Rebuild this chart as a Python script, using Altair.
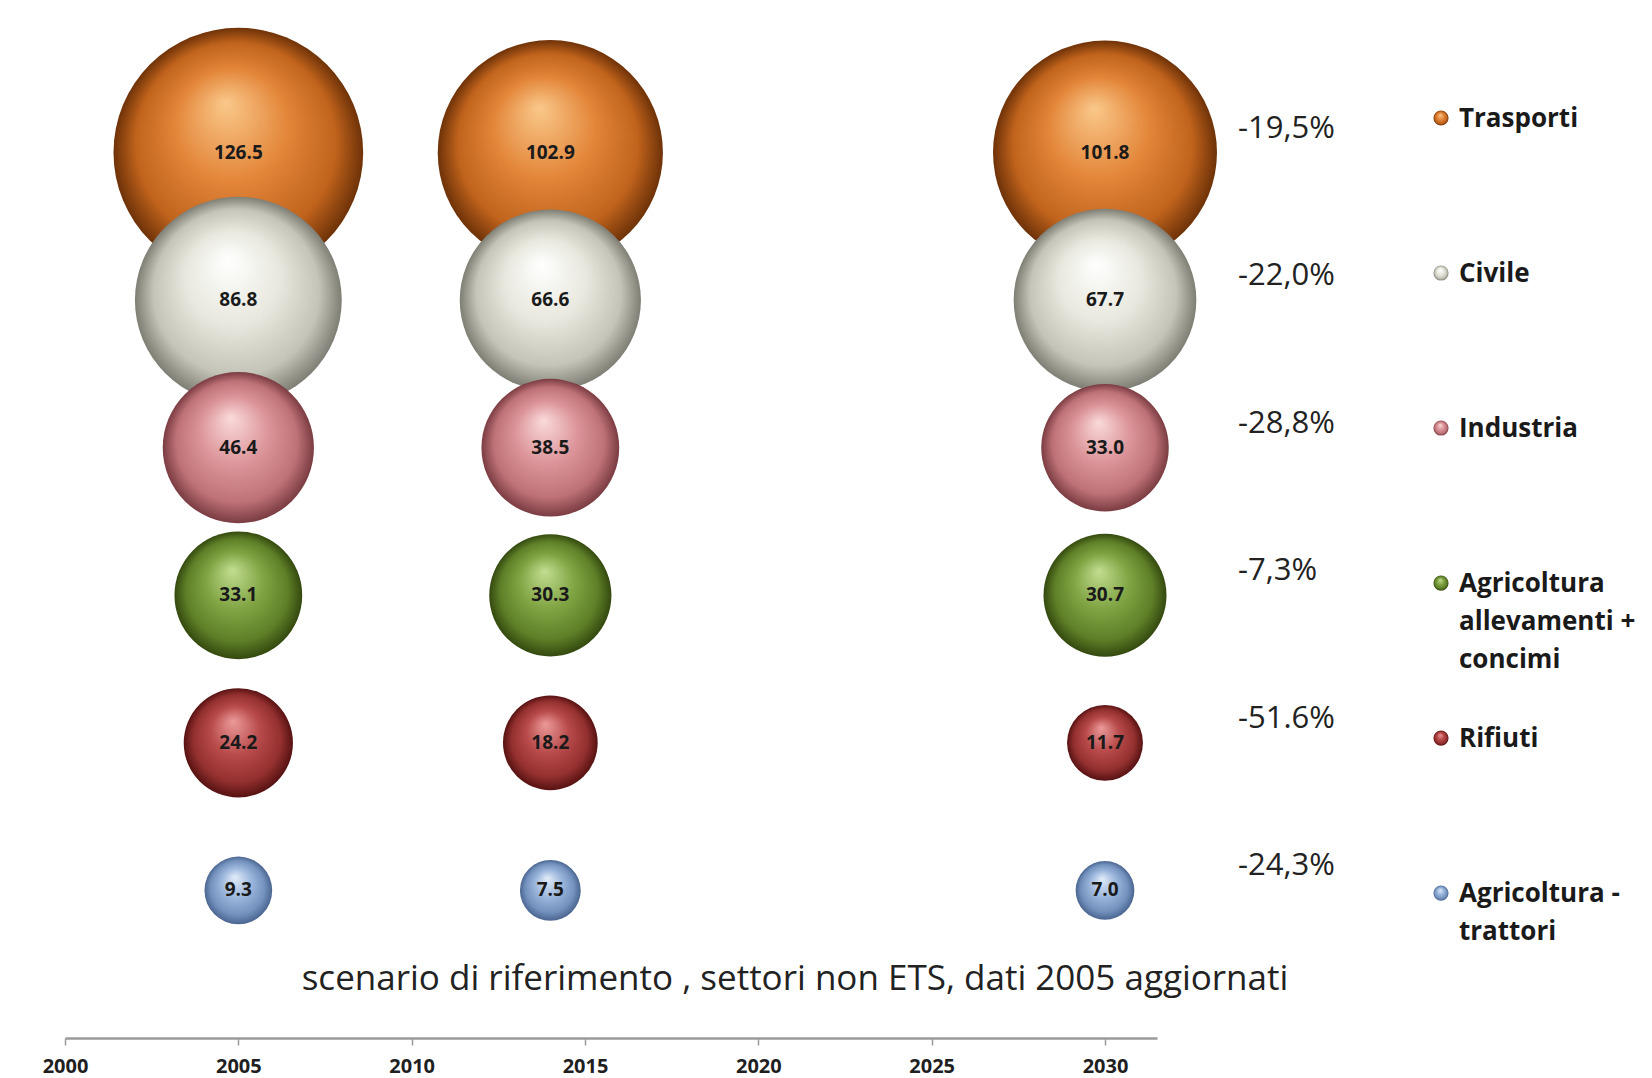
import altair as alt
import pandas as pd

# ---------------- data ----------------
sectors = ["Trasporti", "Civile", "Industria",
           "Agricoltura allevamenti + concimi", "Rifiuti", "Agricoltura - trattori"]
legend_labels = ["Trasporti", "Civile", "Industria",
                 "Agricoltura\nallevamenti +\nconcimi", "Rifiuti", "Agricoltura -\ntrattori"]
years = [2005, 2014, 2030]
values_2005 = [126.5, 86.8, 46.4, 33.1, 24.2, 9.3]
values_2014 = [102.9, 66.6, 38.5, 30.3, 18.2, 7.5]
values_2030 = [101.8, 67.7, 33.0, 30.7, 11.7, 7.0]
pct_change = ["-19,5%", "-22,0%", "-28,8%", "-7,3%", "-51.6%", "-24,3%"]
year_ticks = [2000, 2005, 2010, 2015, 2020, 2025, 2030]
title_text = "scenario di riferimento , settori non ETS, dati 2005 aggiornati"

# sphere shading (highlight, base, shade, rim)
sphere_colors = [
    ("#FAC88A", "#E3863A", "#C0631C", "#6E3208"),
    ("#FFFFFF", "#E8E8DE", "#C4C4B8", "#7E7E74"),
    ("#FADADB", "#DC959A", "#BE7277", "#7A3C42"),
    ("#C2DD90", "#80A443", "#5E7F27", "#34490F"),
    ("#EC9A9A", "#B84A4A", "#93302F", "#571212"),
    ("#E2ECF8", "#9BB6DC", "#7391BD", "#4A6590"),
]

rows = []
for i, s in enumerate(sectors):
    for yr, vals in zip(years, [values_2005, values_2014, values_2030]):
        rows.append({"sector": s, "row": i, "year": yr, "value": vals[i]})
df = pd.DataFrame(rows)
side = pd.DataFrame({"sector": sectors, "row": list(range(len(sectors))),
                     "pct": pct_change, "legend": legend_labels})


def gradient(c):
    h, b, m, d = c
    return {"gradient": "radial", "x1": 0.45, "y1": 0.3, "r1": 0.0,
            "x2": 0.5, "y2": 0.5, "r2": 0.5,
            "stops": [{"offset": 0.0, "color": h},
                      {"offset": 0.45, "color": b},
                      {"offset": 0.8, "color": m},
                      {"offset": 1.0, "color": d}]}


FONT = "Open Sans"
x_scale = alt.Scale(domain=[2000, 2031.5], nice=False, zero=False)
y_scale = alt.Scale(domain=[-1, 6], reverse=True, nice=False, zero=False)
leg_scale = alt.Scale(domain=[-0.729, 5.935], reverse=True, nice=False, zero=False)
size_scale = alt.Scale(type="linear", domain=[0, 130], range=[0, 64069], zero=True)

x_enc = alt.X("year:Q", scale=x_scale,
              axis=alt.Axis(values=year_ticks, format="d", title=None, grid=False,
                            labelFont=FONT, labelFontWeight="bold", labelFontSize=20,
                            labelColor="#1f1f1f", labelPadding=11, labelFlush=False,
                            domainColor="#9a9a9a", domainWidth=2.5,
                            tickColor="#9a9a9a", tickWidth=1.5, tickSize=7))
y_enc = alt.Y("row:Q", scale=y_scale, axis=None)

layers = []
for i, s in enumerate(sectors):
    layers.append(
        alt.Chart(df).transform_filter(alt.datum.sector == s)
        .mark_circle(fill=gradient(sphere_colors[i]), opacity=1, strokeWidth=0)
        .encode(x=x_enc, y=y_enc,
                size=alt.Size("value:Q", scale=size_scale, legend=None))
    )

labels = alt.Chart(df).mark_text(font=FONT, fontWeight="bold", fontSize=19,
                                  color="#1a1a1a").encode(
    x=x_enc, y=y_enc, text=alt.Text("value:Q", format=".1f"))
layers.append(labels)

pct = alt.Chart(side).mark_text(font=FONT, fontSize=31, color="#222222",
                                align="left", baseline="middle", dx=133, dy=-24).encode(
    x=alt.datum(2030), y=y_enc, text="pct:N")
layers.append(pct)

for i, s in enumerate(sectors):
    layers.append(
        alt.Chart(side).transform_filter(alt.datum.sector == s)
        .mark_circle(fill=gradient(sphere_colors[i]), opacity=1, size=230, xOffset=336)
        .encode(x=alt.datum(2030), y=alt.Y("row:Q", scale=leg_scale, axis=None))
    )

leg_text = alt.Chart(side).mark_text(font=FONT, fontWeight="bold", fontSize=26,
                                     color="#1a1a1a", align="left", baseline="top",
                                     dx=354, dy=-12, lineBreak="\n", lineHeight=38).encode(
    x=alt.datum(2030), y=alt.Y("row:Q", scale=leg_scale, axis=None), text="legend:N")
layers.append(leg_text)

chart = alt.layer(*layers).resolve_scale(y="independent").properties(
    width=1092, height=1033,
    autosize=alt.AutoSizeParams(type="none"),
    padding={"left": 65, "top": 5, "right": 495, "bottom": 40},
    background="white",
    title=alt.TitleParams(title_text, orient="bottom", anchor="middle", font=FONT,
                          fontSize=35, fontWeight="normal", color="#222222",
                          offset=-114, dx=184),
).configure_view(stroke=None)

chart.save("out.html", embed_options={"renderer": "svg", "actions": False})
